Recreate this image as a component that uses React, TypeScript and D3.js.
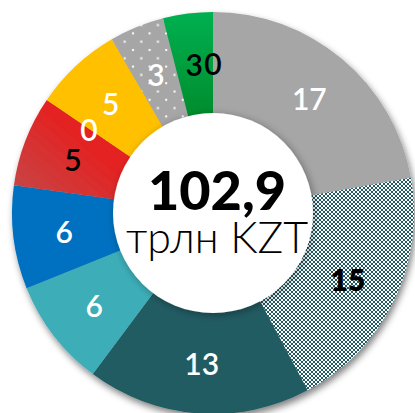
import React from "react";
import * as d3 from "d3";

// slice keys (clockwise from 12 o'clock)
const categories = ["gray", "checker", "darkTeal", "lightTeal", "blue", "red", "zeroA", "yellow", "dotted", "green", "zeroB"];
// slice sizes (share of the ring, %)
const shares = [22.2, 20, 18, 8.7, 8.3, 7.3, 0, 7.1, 4.4, 4, 0];
// printed labels
const labels = ["17", "15", "13", "6", "6", "5", "0", "5", "3", "3", "0"];
const totalValue = "102,9";
const totalUnit = "трлн KZT";

const fills: Record<string, string> = {
  gray: "#a6a6a6",
  checker: "url(#checker)",
  darkTeal: "#225c63",
  lightTeal: "#3eaeb8",
  blue: "#0271c0",
  red: "url(#redGrad)",
  zeroA: "none",
  yellow: "#ffc000",
  dotted: "url(#dots)",
  green: "url(#greenGrad)",
  zeroB: "none",
};
const labelColors: Record<string, string> = {
  gray: "#fff",
  checker: "#000",
  darkTeal: "#fff",
  lightTeal: "#fff",
  blue: "#fff",
  red: "#000",
  zeroA: "#fff",
  yellow: "#fff",
  dotted: "#fff",
  green: "#000",
  zeroB: "#000",
};
const labelWeights: Record<string, number> = { checker: 800 };

export default function App() {
  const W = 415, H = 413;
  const cx = 213, cy = 213;
  const rOuter = 201, rInner = 100, rLabel = 150;
  const data = categories.map((c, i) => ({ key: c, value: shares[i], label: labels[i] }));
  const pie = d3.pie<any>().sort(null).value((d) => d.value).startAngle(0).endAngle(2 * Math.PI);
  const arcs = pie(data);
  const arc = d3.arc<any>().innerRadius(rInner - 2).outerRadius(rOuter);
  const labelArc = d3.arc<any>().innerRadius(rLabel).outerRadius(rLabel);
  const font = "Lato, 'Open Sans', sans-serif";
  return (
    <svg width={W} height={H} style={{ position: "absolute", left: 0, top: 0 }} fontFamily={font}>
      <defs>
        <pattern id="checker" width={4} height={4} patternUnits="userSpaceOnUse">
          <rect width={4} height={4} fill="#fff" />
          <rect x={0} y={0} width={2} height={2} fill="#225c63" />
          <rect x={2} y={2} width={2} height={2} fill="#225c63" />
        </pattern>
        <pattern id="dots" width={16.6} height={16.6} patternUnits="userSpaceOnUse">
          <rect width={16.6} height={16.6} fill="#a6a6a6" />
          <rect x={2} y={2} width={2} height={2} fill="#fff" />
          <rect x={10.3} y={10.3} width={2} height={2} fill="#fff" />
        </pattern>
        <linearGradient id="redGrad" x1="0" y1="1" x2="1" y2="0">
          <stop offset="0" stopColor="#c44848" />
          <stop offset="0.6" stopColor="#e42222" />
          <stop offset="1" stopColor="#e81d1d" />
        </linearGradient>
        <linearGradient id="greenGrad" x1="0" y1="0" x2="0" y2="1">
          <stop offset="0" stopColor="#00b050" />
          <stop offset="1" stopColor="#008c2c" />
        </linearGradient>
        <filter id="ringShadow" x="-10%" y="-10%" width="120%" height="120%">
          <feGaussianBlur in="SourceAlpha" stdDeviation="3.5" />
          <feOffset dx="2" dy="4" result="b" />
          <feComponentTransfer><feFuncA type="linear" slope="0.5" /></feComponentTransfer>
          <feMerge><feMergeNode /><feMergeNode in="SourceGraphic" /></feMerge>
        </filter>
        <filter id="holeShadow" x="-20%" y="-20%" width="140%" height="140%">
          <feGaussianBlur in="SourceAlpha" stdDeviation="4" />
          <feOffset dx="2" dy="2" />
          <feComponentTransfer><feFuncA type="linear" slope="0.35" /></feComponentTransfer>
          <feMerge><feMergeNode /><feMergeNode in="SourceGraphic" /></feMerge>
        </filter>
      </defs>
      <g transform={`translate(${cx},${cy})`}>
        <g filter="url(#ringShadow)">
          {arcs.filter((a) => a.data.value > 0).map((a) => (
            <path key={a.data.key} d={arc(a) as string} fill={fills[a.data.key]} />
          ))}
        </g>
        <circle r={rInner} fill="#fff" filter="url(#holeShadow)" />
        {arcs.map((a) => {
          const [x, y] = labelArc.centroid(a);
          return (
            <text
              key={"l" + a.data.key}
              x={x}
              y={y}
              textAnchor="middle"
              dominantBaseline="central"
              fontSize={30}
              fontWeight={labelWeights[a.data.key] ?? 600}
              fill={labelColors[a.data.key]}
            >
              {a.data.label}
            </text>
          );
        })}
        <text x={4} y={-3} textAnchor="middle" fontSize={54} fontWeight={900} fill="#000">
          {totalValue}
        </text>
        <text x={4} y={40} textAnchor="middle" fontSize={43} fontWeight={300} fill="#000">
          {totalUnit}
        </text>
      </g>
    </svg>
  );
}
